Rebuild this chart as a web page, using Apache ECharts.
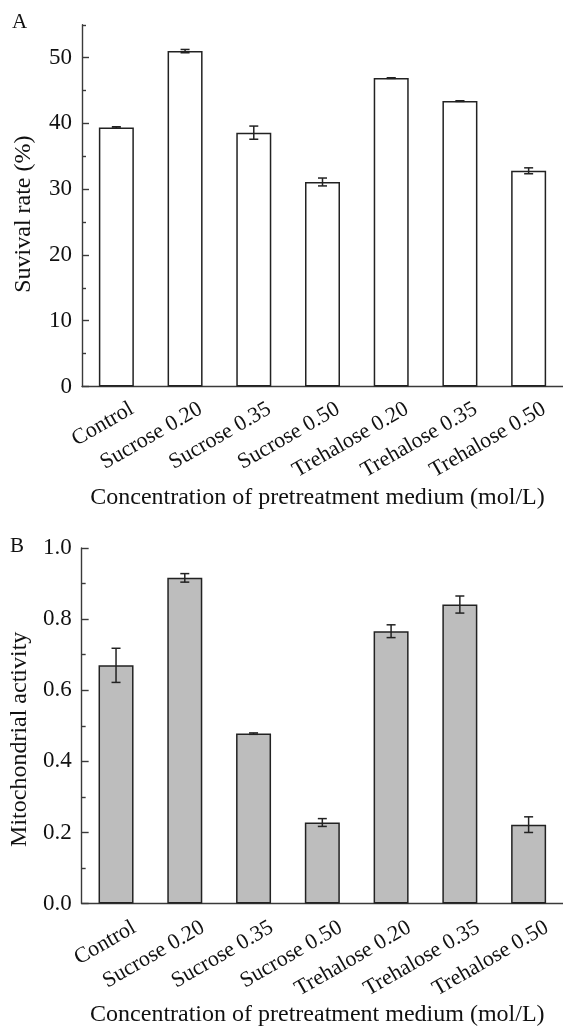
<!DOCTYPE html>
<html>
<head>
<meta charset="utf-8">
<script src="https://cdn.jsdelivr.net/npm/echarts@6/dist/echarts.min.js"></script>
<style>
html,body{margin:0;padding:0;background:#fff;}
#chart{width:563px;height:1028px;}
</style>
</head>
<body>
<div id="chart"></div>
<script>
const categories = ['Control','Sucrose 0.20','Sucrose 0.35','Sucrose 0.50','Trehalose 0.20','Trehalose 0.35','Trehalose 0.50'];
const survival = [39.4, 51.0, 38.6, 31.1, 46.9, 43.4, 32.8];
const survivalErr = [0.1, 0.25, 1.0, 0.6, 0.05, 0.05, 0.45];
const mito = [0.670, 0.916, 0.478, 0.228, 0.766, 0.841, 0.222];
const mitoErr = [0.048, 0.012, 0.002, 0.011, 0.018, 0.024, 0.022];
const survivalMajor = [0, 10, 20, 30, 40, 50];
const survivalMinor = [5, 15, 25, 35, 45, 55];

const FONT = 'Liberation Serif';
const INK = '#222';
const AXIS = '#3a3a3a';

function renderErr(params, api) {
  const x = api.value(0), m = api.value(1), e = api.value(2);
  const hi = api.coord([x, m + e]);
  const lo = api.coord([x, m - e]);
  const w = 4.5;
  const st = {stroke: INK, lineWidth: 1.5};
  return {type: 'group', children: [
    {type: 'line', shape: {x1: hi[0], y1: hi[1], x2: lo[0], y2: lo[1]}, style: st},
    {type: 'line', shape: {x1: hi[0] - w, y1: hi[1], x2: hi[0] + w, y2: hi[1]}, style: st},
    {type: 'line', shape: {x1: lo[0] - w, y1: lo[1], x2: lo[0] + w, y2: lo[1]}, style: st}
  ]};
}

function xAxisCfg(gridIndex, margin, pad, nameGap) {
  return {
    type: 'category', gridIndex: gridIndex, data: categories,
    boundaryGap: true,
    axisLine: {show: true, lineStyle: {color: AXIS, width: 1.4}},
    axisTick: {show: true, inside: true, alignWithLabel: true, length: 7, lineStyle: {color: AXIS, width: 1.4}},
    axisLabel: {rotate: 30, fontFamily: FONT, fontSize: 22, color: '#111', margin: margin, padding: [0, -pad, 0, 0], interval: 0},
    splitLine: {show: false},
    name: 'Concentration of pretreatment medium (mol/L)',
    nameLocation: 'middle', nameGap: nameGap,
    nameTextStyle: {fontFamily: FONT, fontSize: 24, color: '#111', padding: [0, 10, 0, 0]}
  };
}

const option = {
  animation: false,
  backgroundColor: '#fff',
  title: [
    {text: 'A', left: 12, top: 12, padding: 0, textStyle: {fontFamily: FONT, fontSize: 21, fontWeight: 'normal', color: '#111'}},
    {text: 'B', left: 10, top: 536, padding: 0, textStyle: {fontFamily: FONT, fontSize: 21, fontWeight: 'normal', color: '#111'}}
  ],
  grid: [
    {left: 82, width: 490, top: 24.8, bottom: 1028 - 386.5},
    {left: 81, width: 490, top: 548, bottom: 1028 - 907.5}
  ],
  xAxis: [
    xAxisCfg(0, 30, 18, 99),
    xAxisCfg(1, 33, 21, 96)
  ],
  yAxis: [
    {
      type: 'value', gridIndex: 0, position: 'left', min: 0, max: 55,
      axisLine: {show: true, lineStyle: {color: AXIS, width: 1.4}},
      axisTick: {show: true, inside: true, length: 7, customValues: survivalMajor, lineStyle: {color: AXIS, width: 1.4}},
      axisLabel: {customValues: survivalMajor, fontFamily: FONT, fontSize: 23, color: '#111', margin: 10},
      splitLine: {show: false},
      name: 'Suvival rate (%)', nameLocation: 'middle', nameGap: 46,
      nameTextStyle: {fontFamily: FONT, fontSize: 24, color: '#111', padding: [0, 17, 0, 0]}
    },
    {
      type: 'value', gridIndex: 0, position: 'left', offset: 0, min: 0, max: 55,
      axisLine: {show: false},
      axisTick: {show: true, inside: true, length: 4, customValues: survivalMinor, lineStyle: {color: AXIS, width: 1.4}},
      axisLabel: {show: false},
      splitLine: {show: false}
    },
    {
      type: 'value', gridIndex: 1, position: 'left', min: 0, max: 1, interval: 0.2,
      axisLine: {show: true, lineStyle: {color: AXIS, width: 1.4}},
      axisTick: {show: true, inside: true, length: 7, lineStyle: {color: AXIS, width: 1.4}},
      minorTick: {show: true, splitNumber: 2, length: 4, lineStyle: {color: AXIS, width: 1.4}},
      axisLabel: {fontFamily: FONT, fontSize: 23, color: '#111', margin: 10, formatter: v => v.toFixed(1)},
      splitLine: {show: false},
      name: 'Mitochondrial activity', nameLocation: 'middle', nameGap: 46,
      nameTextStyle: {fontFamily: FONT, fontSize: 24, color: '#111', padding: [0, 27, 0, 0]}
    }
  ],
  series: [
    {
      type: 'bar', xAxisIndex: 0, yAxisIndex: 0, data: survival, barWidth: 35,
      itemStyle: {color: '#fff', borderColor: INK, borderWidth: 1.5}, z: 2
    },
    {
      type: 'custom', xAxisIndex: 0, yAxisIndex: 0,
      data: survival.map((v, i) => [i, v, survivalErr[i]]),
      encode: {x: 0, y: 1}, renderItem: renderErr, z: 3
    },
    {
      type: 'bar', xAxisIndex: 1, yAxisIndex: 2, data: mito, barWidth: 35,
      itemStyle: {color: '#bdbdbd', borderColor: INK, borderWidth: 1.5}, z: 2
    },
    {
      type: 'custom', xAxisIndex: 1, yAxisIndex: 2,
      data: mito.map((v, i) => [i, v, mitoErr[i]]),
      encode: {x: 0, y: 1}, renderItem: renderErr, z: 3
    }
  ]
};

const chart = echarts.init(document.getElementById('chart'), null, {renderer: 'canvas'});
chart.setOption(option);
</script>
</body>
</html>
